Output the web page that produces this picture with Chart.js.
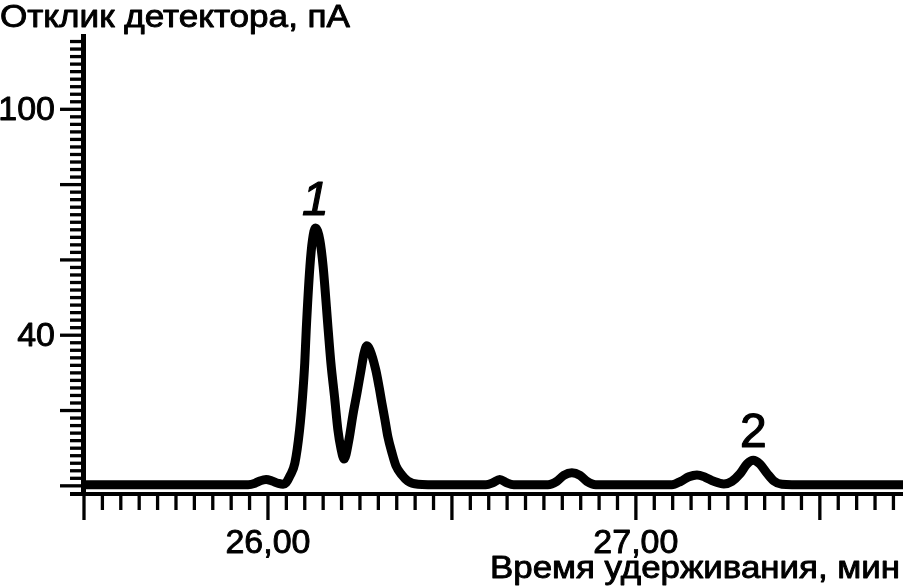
<!DOCTYPE html>
<html>
<head>
<meta charset="utf-8">
<script src="https://cdn.jsdelivr.net/npm/chart.js@4.4.1/dist/chart.umd.min.js"></script>
<style>
  html, body { margin: 0; padding: 0; background: #fff; }
  #wrap { width: 903px; height: 588px; }
</style>
</head>
<body>
<div id="wrap"><canvas id="chromChart" width="903" height="588"></canvas></div>
<script>
// retention time, min
const times = [
  25.500, 25.946, 25.965, 25.978, 25.995, 26.011, 26.027, 26.041, 26.049, 26.060,
  26.073, 26.086, 26.094, 26.100, 26.104, 26.114, 26.121, 26.129, 26.141, 26.150,
  26.164, 26.171, 26.181, 26.190, 26.198, 26.207, 26.220, 26.231, 26.242, 26.253,
  26.261, 26.269, 26.277, 26.293, 26.302, 26.310, 26.318, 26.326, 26.337, 26.348,
  26.364, 26.380, 26.408, 26.435,
  26.592, 26.611, 26.630, 26.649, 26.668,
  26.761, 26.785, 26.804, 26.826, 26.848, 26.867, 26.891,
  27.098, 27.122, 27.144, 27.166, 27.188, 27.212, 27.239, 27.261, 27.283, 27.302,
  27.319, 27.337, 27.356, 27.375, 27.397, 27.424, 27.726
];
// detector response, pA
const response = [
  0.3, 0.3, 0.7, 1.3, 1.7, 1.3, 0.7, 0.4, 0.8, 2.7,
  6.0, 14.9, 23.7, 32.6, 41.4, 58.2, 65.3, 68.5, 65.3, 58.2,
  41.0, 32.7, 23.6, 14.9, 10.1, 7.1, 12.2, 18.9, 24.7, 30.8,
  35.1, 37.2, 36.1, 30.8, 26.3, 21.8, 17.5, 13.0, 8.8, 5.3,
  2.9, 1.3, 0.4, 0.3,
  0.3, 0.8, 1.7, 0.8, 0.3,
  0.3, 1.2, 2.8, 3.5, 2.8, 1.2, 0.3,
  0.3, 1.2, 2.4, 2.9, 2.3, 1.2, 0.5, 1.2, 3.2, 5.8,
  6.8, 5.8, 3.4, 1.3, 0.4, 0.3, 0.3
];

const yLabelValues = [100, 40];
const xLabelValues = [26, 27];
const peakNames = ['1', '2'];
const peakTimes = [26.129, 27.319];
const peakHeights = [68.5, 6.8];

const yTitle = 'Отклик детектора, пА';
const xTitle = 'Время удерживания, мин';

const FONT = "'Liberation Sans', Arial, sans-serif";

// text a bit heavier, like the scanned original
function inkText(ctx, s, x, y) {
  ctx.fillText(s, x, y);
  ctx.strokeText(s, x, y);
}

// stretch a string horizontally so it spans [x0, x1]
function spanText(ctx, s, x0, x1, y) {
  const w = ctx.measureText(s).width;
  ctx.save();
  ctx.textAlign = 'left';
  ctx.translate(x0, y);
  ctx.scale((x1 - x0) / w, 1);
  inkText(ctx, s, 0, 0);
  ctx.restore();
}

// axes are drawn by hand to get the long/short tick marks
const axesPlugin = {
  id: 'handAxes',
  afterDraw(chart) {
    const ctx = chart.ctx;
    const xs = chart.scales.x, ys = chart.scales.y;
    const left = chart.chartArea.left;
    const bottom = chart.chartArea.bottom;
    ctx.save();
    ctx.strokeStyle = '#000';
    ctx.fillStyle = '#000';
    ctx.lineCap = 'butt';

    // y axis line
    ctx.lineWidth = 5;
    ctx.beginPath();
    ctx.moveTo(left - 0.5, ys.getPixelForValue(ys.max));
    ctx.lineTo(left - 0.5, bottom);
    ctx.stroke();

    // x axis line
    ctx.lineWidth = 4;
    ctx.beginPath();
    ctx.moveTo(left - 14, bottom - 2);
    ctx.lineTo(chart.width, bottom - 2);
    ctx.stroke();

    // y ticks every 2, long ones every 20
    ctx.lineWidth = 3.3;
    for (let i = 0; i <= 59; i++) {
      const v = i * 2;
      const py = ys.getPixelForValue(v);
      const len = (v % 20 === 0) ? 24 : 14;
      ctx.beginPath();
      ctx.moveTo(left - len, py);
      ctx.lineTo(left, py);
      ctx.stroke();
    }

    // x ticks every 0.05, long ones every 0.5
    for (let i = 0; i <= 44; i++) {
      const t = 25.5 + i * 0.05;
      const px = xs.getPixelForValue(t);
      const len = (i % 10 === 0) ? 24 : 14;
      ctx.beginPath();
      ctx.moveTo(px, bottom);
      ctx.lineTo(px, bottom + len);
      ctx.stroke();
    }

    ctx.lineWidth = 0.9;
    ctx.lineJoin = 'round';

    // tick labels
    ctx.font = '34px ' + FONT;
    ctx.textAlign = 'right';
    ctx.textBaseline = 'middle';
    yLabelValues.forEach(v => {
      inkText(ctx, String(v), left - 29, ys.getPixelForValue(v) + 1);
    });
    ctx.textAlign = 'center';
    ctx.textBaseline = 'alphabetic';
    xLabelValues.forEach(v => {
      inkText(ctx, v.toFixed(2).replace('.', ','), xs.getPixelForValue(v), 553);
    });

    // axis titles
    ctx.font = '31px ' + FONT;
    spanText(ctx, yTitle, 0, 350, 27);
    spanText(ctx, xTitle, 490, 900, 578);

    // peak numbers
    ctx.lineWidth = 1.2;
    peakNames.forEach((name, i) => {
      ctx.font = (i === 0 ? 'italic ' : '') + '48px ' + FONT;
      ctx.textAlign = 'center';
      inkText(ctx, name, xs.getPixelForValue(peakTimes[i]), ys.getPixelForValue(peakHeights[i]) - 13);
    });
    ctx.restore();
  }
};

new Chart(document.getElementById('chromChart'), {
  type: 'line',
  data: {
    datasets: [{
      data: times.map((t, i) => ({ x: t, y: response[i] })),
      borderColor: '#000',
      borderWidth: 9,
      pointRadius: 0,
      fill: false,
      cubicInterpolationMode: 'monotone',
      borderJoinStyle: 'round',
      borderCapStyle: 'round'
    }]
  },
  options: {
    responsive: false,
    devicePixelRatio: 1,
    animation: false,
    layout: { padding: { left: 84, right: 0, top: 34, bottom: 92 } },
    plugins: { legend: { display: false }, tooltip: { enabled: false } },
    scales: {
      x: { type: 'linear', min: 25.5, max: 27.726, display: false },
      y: { type: 'linear', min: -2.7, max: 120, display: false }
    }
  },
  plugins: [axesPlugin]
});
</script>
</body>
</html>
